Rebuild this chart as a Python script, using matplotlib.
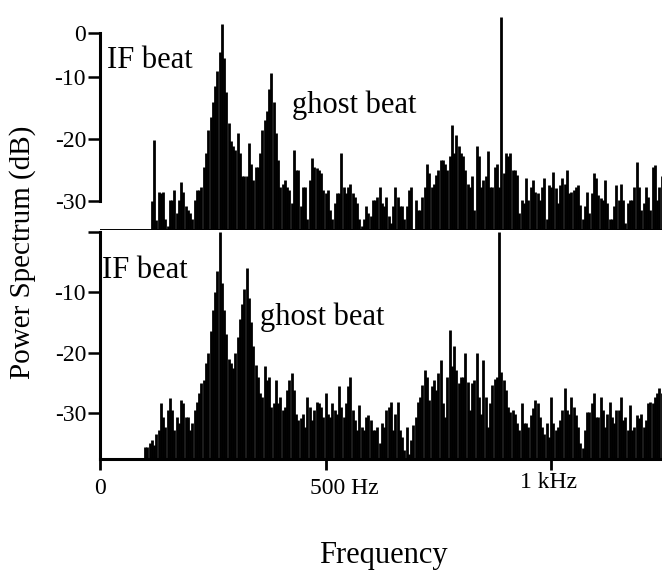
import numpy as np
import matplotlib
matplotlib.use("Agg")
import matplotlib.pyplot as plt

plt.rcParams['font.family'] = ['Liberation Serif', 'DejaVu Serif']

# spectrum levels (dB), read every 5 Hz off the scanned plot
top_freq = np.arange(115, 1250, 5)
top_level = [
    -30.1, -20.2, -33.1, -28.5, -28.8, -28.5, -33, -34, -29.8, -29.8,
    -28.2, -32, -29.8, -26.9, -28.5, -30.9, -31.5, -32, -33, -29.8,
    -28.2, -28.2, -27.7, -24.5, -22.3, -18.5, -16.5, -14, -11.5, -9,
    -6, -1.5, -7, -12.5, -17.5, -20.4, -21.2, -21.8, -19.1, -22.3,
    -26, -26, -26, -20.7, -24, -26.6, -24.5, -24.5, -22.3, -18.5,
    -17, -15.5, -12, -9.3, -14, -19, -23.4, -27.7, -27.2, -26.6,
    -27.7, -28.2, -30.4, -21.8, -25, -25, -30.9, -27.7, -27.7, -33,
    -26.6, -23.1, -24.5, -24.7, -25, -25.5, -28.2, -28.8, -28.2, -31.5,
    -33, -30.4, -28.8, -28.8, -22.3, -27.7, -28.8, -27.7, -27.2, -28.8,
    -29.3, -30.4, -33, -34, -33, -30.9, -32, -32.5, -29.8, -29.8,
    -29.3, -27.7, -30.4, -30.9, -29.3, -32.5, -33.6, -30.9, -27.7, -29.3,
    -30.9, -30.9, -33, -30.9, -28.2, -27.7, -34.7, -29.8, -31.5, -31.5,
    -29.3, -27.7, -24, -25.5, -27.7, -27.2, -25.8, -25, -23.4, -23.4,
    -24, -25, -22.8, -17.7, -22.3, -19.4, -21.2, -22.3, -22.8, -25,
    -27.2, -27.7, -26, -31.5, -21.2, -22.8, -27.7, -26.6, -26, -22,
    -27.7, -27.7, -24.5, -24, -27.7, -0.3, -25.5, -22.3, -22.8, -22.3,
    -25, -25, -25.8, -32, -29.8, -30.4, -26.3, -29.8, -27.7, -26.6,
    -28.5, -28.8, -29.8, -27.7, -26.3, -33, -27.4, -27.7, -25.3, -28,
    -30.4, -27.4, -26.3, -27.2, -25, -28.8, -28.5, -28.2, -27.7, -27.4,
    -30.6, -33, -30.9, -28.5, -32, -28.8, -25.5, -26.3, -29, -29.6,
    -29.8, -26.6, -30.4, -33, -33, -30.9, -27.4, -29.8, -27.2, -29.8,
    -33.6, -30.4, -29.8, -29.8, -27.7, -23.8, -27.7, -31.5, -30.4, -27.7,
    -29.3, -31.5, -24.5, -24.2, -29.8, -27.7, -26,
]

low_freq = np.arange(100, 1250, 5)
low_level = [
    -35.6, -35.6, -35, -34.5, -35.3, -33.4, -32.8, -28.4, -30.6, -32.3,
    -29.5, -27.6, -29.5, -32.8, -30.6, -31.7, -27.9, -28.4, -30.6, -30.6,
    -32.8, -31.7, -29.5, -28.1, -26.7, -25.1, -24.5, -21.8, -20, -16.5,
    -13, -10, -6.5, 0, -8.5, -13, -17, -21, -21.8, -22.5,
    -20, -17.5, -14.5, -12, -9.5, -6, -11, -15, -19, -22,
    -24, -26.7, -27.3, -22.3, -24.5, -24, -29, -28.4, -24.5, -28.4,
    -27.3, -29.5, -29, -26.2, -24.5, -23.4, -26.2, -30.1, -31.2, -30.9,
    -30.1, -32.3, -27.3, -29, -31.2, -29.5, -28.1, -28.4, -29, -30.6,
    -26.7, -30.1, -30.6, -28.4, -29.5, -30.1, -25.6, -29, -30.6, -28.4,
    -25.6, -24, -29.5, -31.2, -32.8, -28.7, -32.3, -32.8, -30.6, -30.3,
    -31.2, -32.8, -32.8, -32.3, -35, -31.7, -32.3, -29.5, -29, -28.1,
    -32.8, -30.1, -28.1, -32.8, -33.9, -36.1, -32.3, -36.7, -34.5, -32,
    -30.6, -28.1, -27.3, -25.4, -22.9, -24, -27.9, -25.6, -24.5, -26.2,
    -23.4, -21.2, -28.4, -30.6, -24, -16.3, -22.3, -19, -22.9, -25.1,
    -24, -24, -20.1, -24.8, -29.5, -25.1, -24.5, -20.1, -27.3, -30.1,
    -21.2, -27.3, -32.3, -28.4, -25.4, -24.3, -24, 0, -23.2, -24.5,
    -26.2, -29, -29.8, -29.5, -30.1, -31.7, -32.8, -28.4, -31.7, -31.7,
    -32.3, -30.3, -29.2, -27.9, -28.4, -30.6, -32.3, -33.4, -31.7, -33.9,
    -27.3, -31.7, -32.8, -32.3, -31.2, -29.5, -25.9, -29.5, -30.1, -27.3,
    -29, -30.3, -32.3, -35, -35.8, -32.8, -29.8, -29.8, -28.4, -26.7,
    -30.6, -30.6, -27.3, -29.5, -32.3, -30.1, -28.1, -30.6, -31.7, -29.5,
    -29.5, -27.3, -31.2, -30.6, -32.8, -28.7, -32.8, -32.3, -30.3, -30.9,
    -30.1, -32.3, -31.2, -28.4, -28.1, -28.4, -27.3, -26.7, -25.9, -26.7,
]

x_ticks = [0, 500, 1000]
x_tick_labels = ["0", "500 Hz", "1 kHz"]
top_ticks = [-2.9, -10, -20, -30]
top_tick_labels = ["0", "-10", "-20", "-30"]
low_ticks = [0, -10, -20, -30]
low_tick_labels = ["", "-10", "-20", "-30"]

TOP_FLOOR = -34.7
LOW_FLOOR = -37.6
F_MAX = 1246

W, H = 662, 582
fig = plt.figure(figsize=(W / 100, H / 100), dpi=100)
fig.patch.set_facecolor('white')

ax_top = fig.add_axes([100 / W, 1 - 230 / H, 562 / W, 230 / H])
ax_low = fig.add_axes([100 / W, 1 - 459 / H, 562 / W, 229 / H])

for ax in (ax_top, ax_low):
    ax.patch.set_visible(False)
    ax.set_xlim(0, F_MAX)
    for s in ('top', 'right'):
        ax.spines[s].set_visible(False)
    ax.spines['left'].set_linewidth(2.2)
    ax.tick_params(axis='y', direction='out', length=9, width=1.8, pad=1,
                   labelsize=17)

# top panel
ax_top.set_ylim(TOP_FLOOR, 2.4)
ax_top.vlines(top_freq, TOP_FLOOR, top_level, colors='black', linewidth=2.0)
ax_top.axhline(TOP_FLOOR, color='black', lw=1.4)
ax_top.spines['bottom'].set_visible(False)
ax_top.spines['left'].set_bounds(-30, -2.9)
ax_top.set_xticks([])
ax_top.set_yticks(top_ticks)
ax_top.set_yticklabels(top_tick_labels)

# bottom panel
ax_low.set_ylim(LOW_FLOOR, 0.25)
ax_low.vlines(low_freq, LOW_FLOOR, low_level, colors='black', linewidth=2.0)
ax_low.spines['left'].set_bounds(LOW_FLOOR, 0)
ax_low.spines['bottom'].set_linewidth(2.2)
ax_low.set_yticks(low_ticks)
ax_low.set_yticklabels(low_tick_labels)
ax_low.set_xticks(x_ticks)
ax_low.set_xticklabels([])
ax_low.tick_params(axis='x', direction='out', length=8, width=2)

xt = ax_low.get_xaxis_transform()
label_offsets = [(0, -21, 'center'), (-11.5, -21, 'left'), (-2, -17, 'center')]
for xv, lab, (dx, dy, ha) in zip(x_ticks, x_tick_labels, label_offsets):
    ax_low.annotate(lab, xy=(xv, 0), xycoords=xt, xytext=(dx, dy),
                    textcoords='offset points', ha=ha, va='center', fontsize=17)

# annotations
ax_top.text(15, -7.3, "IF beat", fontsize=22, ha='left', va='center')
ax_top.text(426, -14.5, "ghost beat", fontsize=22, ha='left', va='center')
ax_low.text(4, -6.4, "IF beat", fontsize=22, ha='left', va='center')
ax_low.text(355, -14.1, "ghost beat", fontsize=22, ha='left', va='center')

fig.text(23 / W, 1 - 252 / H, "Power Spectrum (dB)", rotation=90,
         ha='center', va='center', fontsize=21)
fig.text(383 / W, 1 - 555 / H, "Frequency", ha='center', va='center',
         fontsize=22)

fig.savefig("out.png", dpi=100, facecolor=fig.get_facecolor())
